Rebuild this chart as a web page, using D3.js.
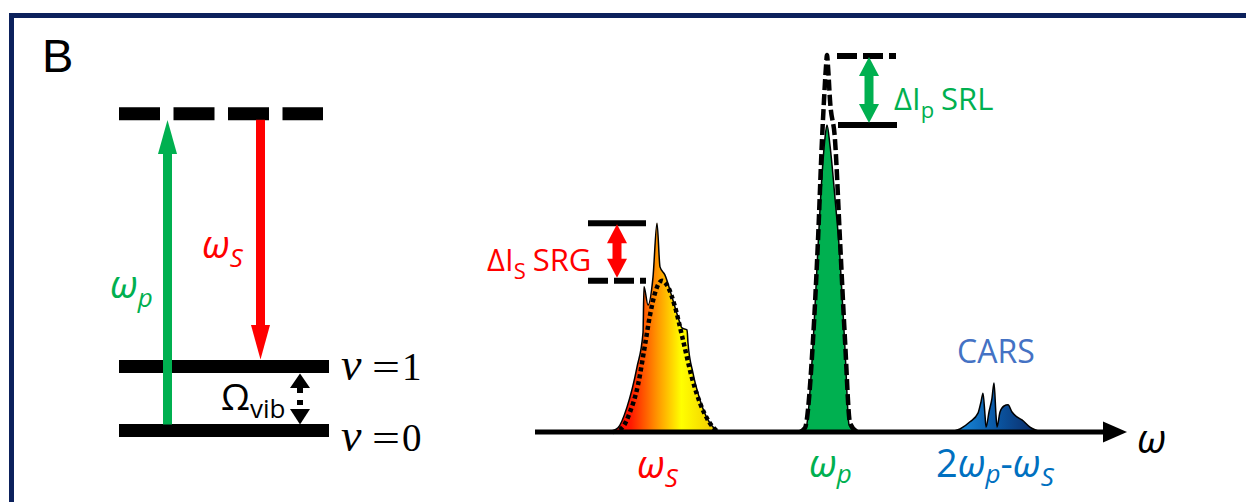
<!DOCTYPE html>
<html lang="en">
<head>
<meta charset="UTF-8">
<title>SRS / CARS energy diagram and spectra</title>
<script src="https://d3js.org/d3.v7.min.js"></script>
<style>
  body { margin: 0; background: #fff; }
  svg text { font-family: "Open Sans", "Noto Sans", sans-serif; }
</style>
</head>
<body>
<div id="chart"></div>
<script>
  // energy levels (units of vibrational quantum)
  const levelNames = ["ν = 0", "ν = 1", "virtual"];
  const levelEnergy = [0, 1, 4.95];

  // Stokes spectrum with gain (solid) and reference (dotted)
  const stokesOmega = [75, 83, 92, 102, 108, 109, 113, 118, 122, 125, 130, 137, 143, 147, 152, 153, 158, 165, 173, 182, 189];
  const stokesGain = [0, 1.1, 6.6, 17.2, 26.3, 38.5, 33.7, 41.1, 55.4, 43.8, 41.6, 35.8, 30.5, 27.6, 27.1, 23.6, 15.6, 8.5, 3.2, 0.5, 0];
  const stokesRefOmega = [78, 87, 95, 103, 110, 115, 121, 127, 133, 140, 148, 157, 165, 174, 183];
  const stokesRef = [0, 1.1, 5.3, 12.5, 23.1, 31.0, 37.7, 40.1, 38.5, 33.2, 24.4, 14.3, 7.7, 2.7, 0];

  // pump spectrum with loss (filled) and reference (dashed)
  const pumpOmega = [267, 271, 278, 283, 287, 290, 292, 295, 300, 305, 310, 314, 320];
  const pumpLoss = [0, 1.0, 23, 49, 68, 78, 81.4, 76, 62, 46, 22, 2, 0];
  const pumpRefOmega = [265, 270, 278, 283, 287, 289, 291, 292, 293, 295, 300, 305, 310, 315, 322];
  const pumpRef = [0, 1.1, 24.4, 50.9, 77.5, 88, 97, 100, 97, 88, 77.5, 50.9, 24.4, 2.4, 0];

  // anti-Stokes (CARS) signal
  const carsOmega = [415, 425, 435, 443, 446, 448, 450, 451, 454, 457, 459, 461, 462, 465, 469, 473, 477, 482, 487, 495, 507];
  const carsSignal = [0, 0.8, 2.7, 5.0, 8.0, 10.3, 4.5, 1.3, 5.3, 9.0, 13.0, 4.5, 1.3, 5.3, 6.9, 7.2, 5.3, 4.0, 3.2, 1.3, 0];

  const green = "#00b050", red = "#ff0000", blue = "#0070c0";

  const W = 1246, H = 502;
  const svg = d3.select("#chart").append("svg")
    .attr("width", W).attr("height", H);

  const defs = svg.append("defs");
  const gS = defs.append("linearGradient").attr("id", "stokesGrad")
    .attr("gradientUnits", "userSpaceOnUse").attr("x1", 615).attr("x2", 722).attr("y1", 0).attr("y2", 0);
  [[0, "#ff0000"], [0.15, "#ff1a00"], [0.4, "#ff9800"], [0.62, "#ffff00"], [1, "#f0c000"]]
    .forEach(s => gS.append("stop").attr("offset", s[0]).attr("stop-color", s[1]));
  const gC = defs.append("linearGradient").attr("id", "carsGrad")
    .attr("gradientUnits", "userSpaceOnUse").attr("x1", 955).attr("x2", 1040).attr("y1", 0).attr("y2", 0);
  [[0, "#1a8ee0"], [0.45, "#0a5aa8"], [1, "#0c2660"]]
    .forEach(s => gC.append("stop").attr("offset", s[0]).attr("stop-color", s[1]));

  // panel frame
  svg.append("path").attr("d", "M11.5,502V15.5H1246")
    .attr("fill", "none").attr("stroke", "#0c215c").attr("stroke-width", 5);

  svg.append("text").attr("x", 42).attr("y", 72)
    .style("font-family", "'Liberation Sans', Arial, sans-serif")
    .attr("font-size", 47).text("B");

  // ---------- energy level diagram ----------
  const e = d3.scaleLinear().domain([0, 1]).range([430.5, 366.5]);

  function arrowHead(g, x, tipY, baseY, halfW, color) {
    g.append("path")
      .attr("d", `M${x},${tipY}L${x - halfW},${baseY}L${x + halfW},${baseY}Z`)
      .attr("fill", color);
  }

  const lv = svg.append("g");
  levelEnergy.forEach((en, i) => {
    const virtual = levelNames[i] === "virtual";
    lv.append("line")
      .attr("x1", 119).attr("x2", virtual ? 323 : 329)
      .attr("y1", e(en)).attr("y2", e(en))
      .attr("stroke", "#000").attr("stroke-width", 13)
      .attr("stroke-dasharray", virtual ? "41 13.5" : null);
  });

  // pump arrow (up)
  const ar = svg.append("g");
  ar.append("line").attr("x1", 167.5).attr("x2", 167.5)
    .attr("y1", e(0) - 6).attr("y2", 152)
    .attr("stroke", green).attr("stroke-width", 9);
  arrowHead(ar, 167.5, 120, 154, 9.5, green);
  // Stokes arrow (down)
  ar.append("line").attr("x1", 260.5).attr("x2", 260.5)
    .attr("y1", e(levelEnergy[2]) + 6).attr("y2", 327)
    .attr("stroke", red).attr("stroke-width", 9);
  arrowHead(ar, 260.5, e(1) - 7, 325, 9.5, red);

  // Omega_vib dotted double arrow
  arrowHead(ar, 300, e(1) + 7, 388, 10, "#000");
  arrowHead(ar, 300, e(0) - 6, 409, 10, "#000");
  ar.append("line").attr("x1", 300).attr("x2", 300).attr("y1", 388).attr("y2", 409)
    .attr("stroke", "#000").attr("stroke-width", 6).attr("stroke-dasharray", "5 7");

  const lab = svg.append("g");
  function sym(x, y, main, sub, color, size, subSize, dy, italic) {
    const t = lab.append("text").attr("x", x).attr("y", y)
      .attr("fill", color).attr("font-size", size)
      .attr("font-style", italic ? "italic" : null);
    t.append("tspan").text(main);
    if (sub) t.append("tspan").attr("dy", dy).attr("font-size", subSize).text(sub);
    return t;
  }
  sym(110, 298, "ω", "p", green, 38, 26, 9, true);
  sym(202, 258, "ω", "S", red, 38, 26, 9, true);
  sym(221, 410, "Ω", "vib", "#000", 37, 26, 8, false);

  // nu labels (serif, math style)
  [[1, 380], [0, 451]].forEach(([n, yb]) => {
    const t = lab.append("text").attr("y", yb).attr("font-size", 38)
      .style("font-family", "'Liberation Serif', 'Times New Roman', serif");
    t.append("tspan").attr("x", 341).attr("font-style", "italic").attr("font-size", 46).text("ν");
    t.append("tspan").attr("x", 372).attr("textLength", 28).attr("lengthAdjust", "spacingAndGlyphs").text("=");
    t.append("tspan").attr("x", 402).attr("font-size", 39).text(String(n));
  });

  // ---------- spectra ----------
  const x = d3.scaleLinear().domain([0, 590]).range([535, 1125]);
  const y = d3.scaleLinear().domain([0, 100]).range([432, 55]);

  const pts = (xs, ys) => xs.map((w, i) => ({ w: w, v: ys[i] }));
  const area = d3.area().x(d => x(d.w)).y0(y(0)).y1(d => y(d.v)).curve(d3.curveMonotoneX);
  const line = d3.line().x(d => x(d.w)).y(d => y(d.v)).curve(d3.curveMonotoneX);

  const sp = svg.append("g");
  sp.append("path").attr("d", area(pts(stokesOmega, stokesGain)))
    .attr("fill", "url(#stokesGrad)").attr("stroke", "#000").attr("stroke-width", 1.5);
  sp.append("path").attr("d", line(pts(stokesRefOmega, stokesRef)))
    .attr("fill", "none").attr("stroke", "#000").attr("stroke-width", 4.5)
    .attr("stroke-dasharray", "4 3");

  sp.append("path").attr("d", area(pts(pumpOmega, pumpLoss)))
    .attr("fill", green).attr("stroke", "#000").attr("stroke-width", 1.5);
  sp.append("path").attr("d", line(pts(pumpRefOmega, pumpRef)))
    .attr("fill", "none").attr("stroke", "#000").attr("stroke-width", 4.5)
    .attr("stroke-dasharray", "11 4");

  sp.append("path").attr("d", area(pts(carsOmega, carsSignal)))
    .attr("fill", "url(#carsGrad)").attr("stroke", "#000").attr("stroke-width", 1.5);

  // frequency axis with arrow
  sp.append("line").attr("x1", x(0)).attr("x2", x(570)).attr("y1", y(0)).attr("y2", y(0))
    .attr("stroke", "#000").attr("stroke-width", 5);
  sp.append("path")
    .attr("d", `M${x(592)},${y(0)}L${x(568)},${y(0) - 10.5}L${x(568)},${y(0) + 10.5}Z`)
    .attr("fill", "#000");

  // intensity change markers
  function doubleArrow(xc, y1, y2, color) {
    arrowHead(sp, xc, y1, y1 + 19, 10, color);
    arrowHead(sp, xc, y2, y2 - 19, 10, color);
    sp.append("line").attr("x1", xc).attr("x2", xc).attr("y1", y1 + 15).attr("y2", y2 - 15)
      .attr("stroke", color).attr("stroke-width", 9);
  }
  const srgTop = y(d3.max(stokesGain)), srgBot = y(d3.max(stokesRef));
  sp.append("line").attr("x1", 588).attr("x2", 646).attr("y1", srgTop).attr("y2", srgTop)
    .attr("stroke", "#000").attr("stroke-width", 6);
  sp.append("line").attr("x1", 588).attr("x2", 646).attr("y1", srgBot).attr("y2", srgBot)
    .attr("stroke", "#000").attr("stroke-width", 6).attr("stroke-dasharray", "20 6");
  doubleArrow(617, srgTop + 1, srgBot - 3, red);

  const srlTop = y(d3.max(pumpRef)), srlBot = y(d3.max(pumpLoss));
  sp.append("line").attr("x1", 837).attr("x2", 896).attr("y1", srlTop + 1).attr("y2", srlTop + 1)
    .attr("stroke", "#000").attr("stroke-width", 6).attr("stroke-dasharray", "20 6");
  sp.append("line").attr("x1", 838).attr("x2", 897).attr("y1", srlBot).attr("y2", srlBot)
    .attr("stroke", "#000").attr("stroke-width", 6);
  doubleArrow(869, srlTop + 2, srlBot - 2, green);

  function deltaLabel(x0, yb, sub, tail, color) {
    const t = lab.append("text").attr("x", x0).attr("y", yb).attr("fill", color).attr("font-size", 31);
    t.append("tspan").text("ΔI");
    t.append("tspan").attr("dy", 8).attr("font-size", 22).text(sub);
    t.append("tspan").attr("dy", -8).attr("dx", 7).text(tail);
  }
  deltaLabel(487, 271, "S", "SRG", red);
  deltaLabel(894, 110, "p", "SRL", green);

  lab.append("text").attr("x", 957).attr("y", 363).attr("fill", "#4472c4")
    .attr("font-size", 32).text("CARS");

  // bottom frequency labels
  sym(637, 478, "ω", "S", red, 38, 26, 9, true);
  sym(809, 477, "ω", "p", green, 38, 26, 6, true);
  const cl = lab.append("text").attr("x", 936).attr("y", 477).attr("fill", blue).attr("font-size", 38);
  cl.append("tspan").text("2");
  cl.append("tspan").attr("font-style", "italic").text("ω");
  cl.append("tspan").attr("font-style", "italic").attr("font-size", 26).attr("dy", 6).text("p");
  cl.append("tspan").attr("dy", -6).text("-");
  cl.append("tspan").attr("font-style", "italic").text("ω");
  cl.append("tspan").attr("font-style", "italic").attr("font-size", 26).attr("dy", 9).text("S");

  lab.append("text").attr("x", 1137).attr("y", 453).attr("font-size", 40)
    .attr("font-style", "italic").text("ω");
</script>
</body>
</html>
